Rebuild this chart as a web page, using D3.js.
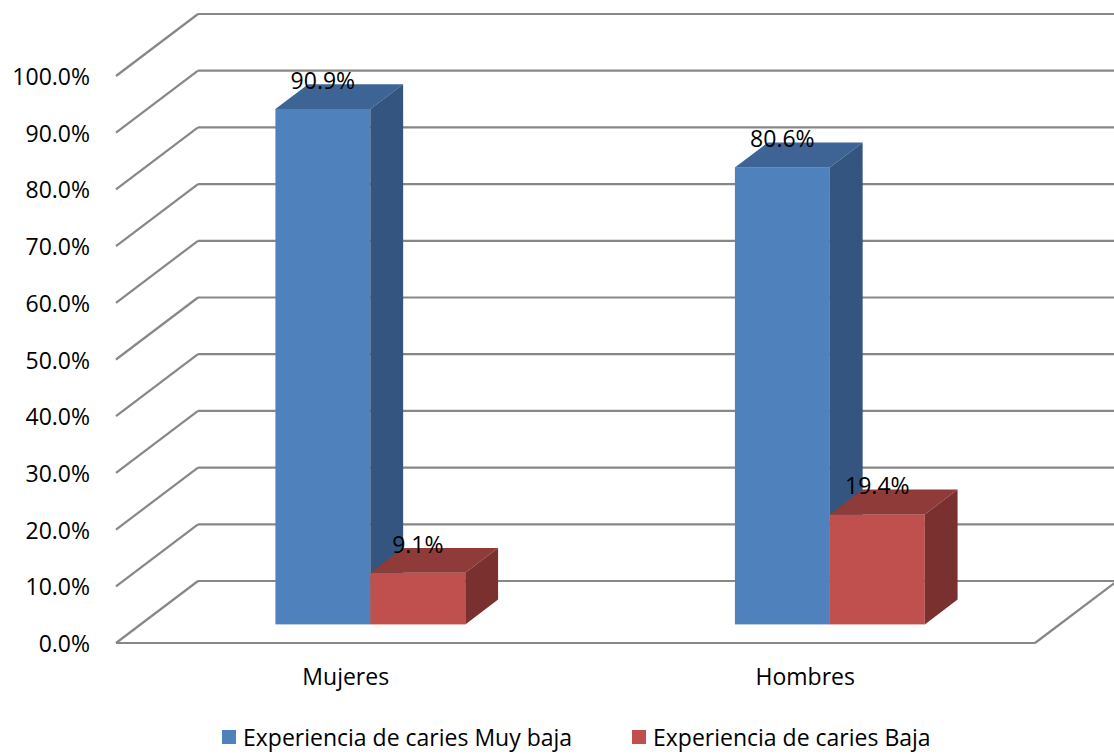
<!DOCTYPE html>
<html>
<head>
<meta charset="utf-8">
<script src="https://cdn.jsdelivr.net/npm/d3@7"></script>
<style>
  html, body { margin: 0; padding: 0; background: #ffffff; }
  svg { display: block; font-family: "Open Sans", "DejaVu Sans", sans-serif; }
</style>
</head>
<body>
<svg id="chart" width="1114" height="754"></svg>
<script>
// Categories, series and values (percent)
const categories = ["Mujeres", "Hombres"];
const seriesNames = ["Experiencia de caries Muy baja", "Experiencia de caries Baja"];
const valuesMuyBaja = [90.9, 80.6];
const valuesBaja = [9.1, 19.4];
const tickValues = [0, 10, 20, 30, 40, 50, 60, 70, 80, 90, 100];

const seriesValues = [valuesMuyBaja, valuesBaja];
const palette = [
  { front: "#4f81bd", top: "#3d6494", side: "#34557f" },
  { front: "#c0504d", top: "#8f3b39", side: "#7a302e" }
];

const svg = d3.select("#chart");

// Front plane of the plot box and its depth vector
const plotLeft = 116, plotRight = 1035, plotBottom = 643, plotTop = 76;
const depthX = 82, depthY = -62;
const barDepthStart = 0.3, barDepthEnd = 0.7;

const x0 = d3.scaleBand().domain(categories).range([plotLeft, plotRight]);
const x1 = d3.scaleBand().domain(seriesNames).range([0, x0.bandwidth()])
  .paddingInner(0).paddingOuter(1.42);
const y = d3.scaleLinear().domain([0, 100]).range([plotBottom, plotTop]);

const gridColor = "#878787";
const grid = svg.append("g").attr("fill", "none").attr("stroke", gridColor).attr("stroke-width", 2.2);

// Back wall gridlines and side wall diagonals
tickValues.forEach(t => {
  const yf = y(t);
  grid.append("line")
    .attr("x1", plotLeft + depthX).attr("y1", yf + depthY)
    .attr("x2", plotRight + depthX).attr("y2", yf + depthY);
  grid.append("line")
    .attr("x1", plotLeft).attr("y1", yf)
    .attr("x2", plotLeft + depthX).attr("y2", yf + depthY);
});
// Floor front edge and right edge
grid.append("line")
  .attr("x1", plotLeft).attr("y1", y(0))
  .attr("x2", plotRight).attr("y2", y(0));
grid.append("line")
  .attr("x1", plotRight).attr("y1", y(0))
  .attr("x2", plotRight + depthX).attr("y2", y(0) + depthY);

// Value axis labels
const fmt = d => d3.format(".1f")(d) + "%";
svg.append("g").selectAll("text").data(tickValues).join("text")
  .attr("x", 90).attr("y", d => y(d))
  .attr("text-anchor", "end").attr("dominant-baseline", "central")
  .attr("font-size", 23).attr("fill", "#000")
  .text(fmt);

// 3D bars
const bars = svg.append("g");
const labels = svg.append("g");
const ox = depthX * barDepthStart, oy = depthY * barDepthStart;
const dx = depthX * (barDepthEnd - barDepthStart), dy = depthY * (barDepthEnd - barDepthStart);
const baseY = y(0) + oy;

categories.forEach((cat, ci) => {
  seriesNames.forEach((s, si) => {
    const v = seriesValues[si][ci];
    const xa = x0(cat) + x1(s) + ox;
    const xb = xa + x1.bandwidth();
    const yt = y(v) + oy;
    const c = palette[si];
    const g = bars.append("g");
    g.append("rect")
      .attr("x", xa).attr("y", yt)
      .attr("width", xb - xa).attr("height", baseY - yt)
      .attr("fill", c.front);
    g.append("polygon")
      .attr("points", [[xa, yt], [xb, yt], [xb + dx, yt + dy], [xa + dx, yt + dy]].join(" "))
      .attr("fill", c.top);
    g.append("polygon")
      .attr("points", [[xb, yt], [xb + dx, yt + dy], [xb + dx, baseY + dy], [xb, baseY]].join(" "))
      .attr("fill", c.side);
    labels.append("text")
      .attr("x", (xa + xb) / 2).attr("y", yt - 20)
      .attr("text-anchor", "middle")
      .attr("font-size", 23).attr("fill", "#000")
      .text(d3.format(".1f")(v) + "%");
  });
});

// Category labels
svg.append("g").selectAll("text").data(categories).join("text")
  .attr("x", d => x0(d) + x0.bandwidth() / 2).attr("y", 685)
  .attr("text-anchor", "middle")
  .attr("font-size", 23).attr("fill", "#000")
  .text(d => d);

// Legend
const legendX = [222, 632];
const legend = svg.append("g");
seriesNames.forEach((s, i) => {
  legend.append("rect")
    .attr("x", legendX[i]).attr("y", 730)
    .attr("width", 14).attr("height", 14)
    .attr("fill", palette[i].front);
  legend.append("text")
    .attr("x", legendX[i] + 21).attr("y", 746)
    .attr("font-size", 23).attr("fill", "#000")
    .text(s);
});
</script>
</body>
</html>
